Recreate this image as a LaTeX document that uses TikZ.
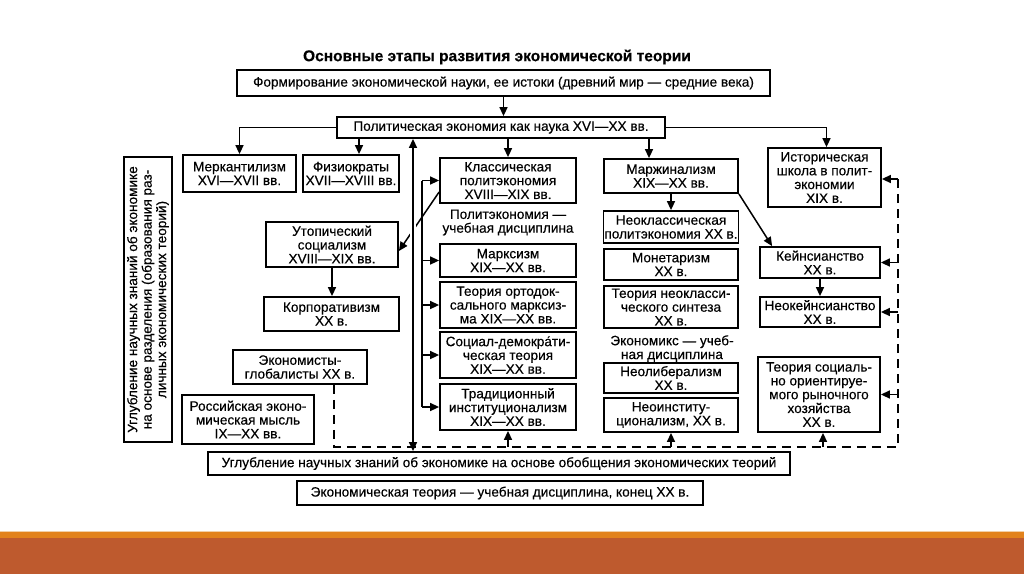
\documentclass[tikz,border=0pt]{standalone}
\usepackage{fontspec}
\setmainfont{Liberation Sans}[FakeBold=0.35]
\usetikzlibrary{arrows.meta,calc}
\definecolor{stripeA}{HTML}{E2821C}
\definecolor{stripeB}{HTML}{BE5A2E}
\definecolor{stripeC}{HTML}{F2CFA6}
\newcommand\boxfont{\fontsize{13.6}{13.8}\selectfont}
\newcommand\titlefont{\fontsize{15.5}{17}\selectfont\bfseries}
\begin{document}
\begin{tikzpicture}[x=1pt,y=-1pt,
  box/.style={draw, line width=1.8pt, align=center, inner sep=1pt, font=\boxfont},
  lbl/.style={align=center, inner sep=1pt, font=\boxfont},
  con/.style={line width=1.5pt},
  arr/.style={line width=1.5pt, -{Triangle[length=9pt,width=8pt]}},
  darr/.style={line width=1.5pt, {Triangle[length=9pt,width=8pt]}-{Triangle[length=9pt,width=8pt]}},
  dsh/.style={line width=1.5pt, dash pattern=on 9pt off 6pt}]
\fill[white] (0,0) rectangle (1024,574);
\useasboundingbox (0,0) rectangle (1024,574);
\fill[stripeC] (0,530.5) rectangle (1024,532);
\fill[stripeA] (0,532) rectangle (1024,538);
\fill[stripeB] (0,538) rectangle (1024,574);

\node[font=\titlefont] (title) at (497,57) {Основные этапы развития экономической теории};
\node[box, minimum width=533, minimum height=26] (b1) at (503.5,83) {Формирование экономической науки, ее истоки (древний мир — средние века)};
\node[box, minimum width=328, minimum height=21] (b2) at (501,127.5) {Политическая экономия как наука XVI—XX вв.};

\node[box, minimum width=113, minimum height=37] (merc) at (239.5,173.5) {Меркантилизм\\XVI—XVII вв.};
\node[box, minimum width=96, minimum height=37] (fiz) at (351,173.5) {Физиократы\\XVII—XVIII вв.};
\node[box, minimum width=136, minimum height=45] (klass) at (508,180.5) {Классическая\\политэкономия\\XVIII—XIX вв.};
\node[box, minimum width=134, minimum height=34] (marg) at (671,176) {Маржинализм\\XIX—XX вв.};
\node[box, minimum width=113, minimum height=59] (hist) at (824.5,177.5) {Историческая\\школа в полит-\\экономии\\XIX в.};

\node[box, minimum width=132, minimum height=45] (utop) at (332,244.5) {Утопический\\социализм\\XVIII—XIX вв.};
\node[box, minimum width=135, minimum height=34] (corp) at (331.5,314) {Корпоративизм\\XX в.};
\node[box, minimum width=134, minimum height=34] (glob) at (300,367) {Экономисты-\\глобалисты XX в.};
\node[box, minimum width=132, minimum height=49] (ross) at (248,419.5) {Российская эконо-\\мическая мысль\\IX—XX вв.};

\node[lbl] (polit) at (508,222.5) {Политэкономия —\\учебная дисциплина};
\node[box, minimum width=136, minimum height=33] (marx) at (508,260.5) {Марксизм\\XIX—XX вв.};
\node[box, minimum width=136, minimum height=46] (orth) at (508,305) {Теория ортодок-\\сального марксиз-\\ма XIX—XX вв.};
\node[box, minimum width=136, minimum height=46] (socdem) at (508,355) {Социал-демокра́ти-\\ческая теория\\XIX—XX вв.};
\node[box, minimum width=136, minimum height=46] (trad) at (508,407) {Традиционный\\институционализм\\XIX—XX вв.};

\node[box, minimum width=134, minimum height=32] (neocl) at (671,227) {Неоклассическая\\политэкономия XX в.};
\node[box, minimum width=134, minimum height=31] (monet) at (671,264.5) {Монетаризм\\XX в.};
\node[box, minimum width=134, minimum height=42] (synth) at (671,307) {Теория неокласси-\\ческого синтеза\\XX в.};
\node[lbl] (econx) at (672,348.5) {Экономикс — учеб-\\ная дисциплина};
\node[box, minimum width=134, minimum height=30] (neolib) at (671,378) {Неолиберализм\\XX в.};
\node[box, minimum width=134, minimum height=34] (neoinst) at (671,415) {Неоинститу-\\ционализм, XX в.};

\node[box, minimum width=120, minimum height=31] (keyn) at (820,262.5) {Кейнсианство\\XX в.};
\node[box, minimum width=120, minimum height=30] (neokeyn) at (820,312) {Неокейнсианство\\XX в.};
\node[box, minimum width=122, minimum height=75] (social) at (819,394.5) {Теория социаль-\\но ориентируе-\\мого рыночного\\хозяйства\\XX в.};

\node[box, rotate=90, minimum width=285, minimum height=48, font=\fontsize{13.6}{14.5}\selectfont] (left) at (148,299.5) {Углубление научных знаний об экономике\\на основе разделения (образования раз-\\личных экономических теорий)};

\node[box, minimum width=582, minimum height=23] (ugl) at (499,463.5) {Углубление научных знаний об экономике на основе обобщения экономических теорий};
\node[box, minimum width=406, minimum height=24] (econ) at (500,493) {Экономическая теория — учебная дисциплина, конец XX в.};

% coordinates
\coordinate (vx) at (413,300);
\coordinate (bx) at (422,300);
\coordinate (dA) at (334,447);
\coordinate (dB) at (898,447);
\coordinate (dC) at (898,179);

% top connectors
\draw[arr] (b1.south) -- (b1.south |- b2.north);
\draw[arr] (b2.west) -| (merc.north);
\draw[arr] ([xshift=8pt]fiz.north |- b2.south) -- ([xshift=8pt]fiz.north);
\draw[arr] (b2.south -| klass.north) -- (klass.north);
\draw[arr] ([xshift=-22pt]marg.north |- b2.south) -- ([xshift=-22pt]marg.north);
\draw[arr] (b2.east) -| ([xshift=2pt]hist.north);

% diagonal klass -> utop
\draw[arr] ([yshift=-11.5pt]klass.west) -- ([yshift=-6.5pt]utop.east);
% main vertical double arrow
\draw[darr, preaction={draw=white, line width=6pt, -, shorten <=6pt, shorten >=12pt}] (b2.south -| vx) -- (ugl.north -| vx);

% bracket to the classical column
\draw[con] (klass.west -| bx) -- (trad.west -| bx);
\draw[arr] (klass.west -| bx) -- (klass.west);
\draw[arr] (marx.west -| bx) -- (marx.west);
\draw[arr] (orth.west -| bx) -- (orth.west);
\draw[arr] (socdem.west -| bx) -- (socdem.west);
\draw[arr] (trad.west -| bx) -- (trad.west);

\draw[arr] (utop.south) -- (corp.north -| utop.south);
\draw[arr] (marg.south) -- (neocl.north);
\draw[arr] (marg.south east) -- ([xshift=13pt]keyn.north west);
\draw[arr] (keyn.south) -- (neokeyn.north);

% dashed feedback line
\draw[dsh] (glob.south -| dA) -- (dA) -- (dB) -- (dC);
\draw[arr] (trad.south |- dA) -- (trad.south);
\draw[arr] (neoinst.south |- dA) -- (neoinst.south);
\draw[arr] ([xshift=4pt]social.south |- dB) -- ([xshift=4pt]social.south);
\draw[arr] (dC) -- (dC -| hist.east);
\draw[arr] (keyn.east -| dC) -- (keyn.east);
\draw[arr] (neokeyn.east -| dC) -- (neokeyn.east);
\draw[arr] (social.east -| dC) -- (social.east);
\end{tikzpicture}
\end{document}
